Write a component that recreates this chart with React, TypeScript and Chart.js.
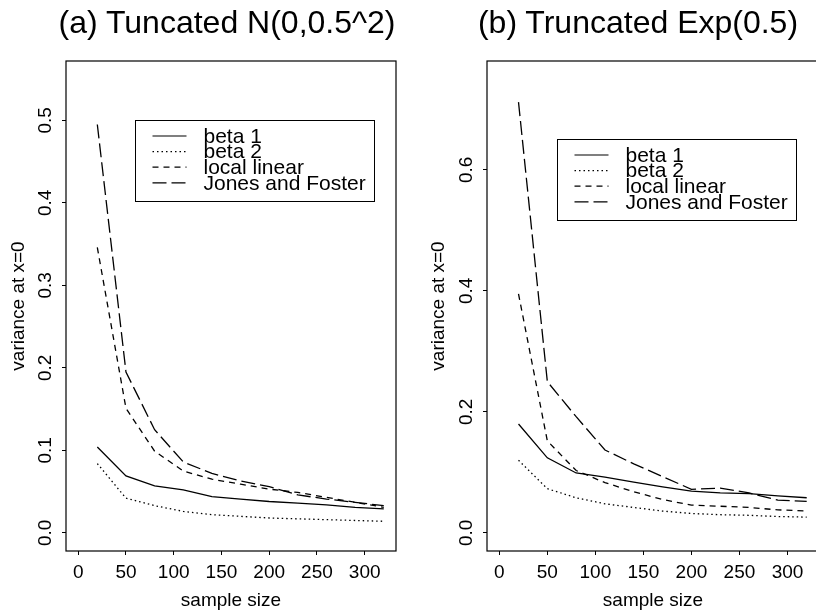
import React, { useEffect, useRef } from "react";
import { Chart, registerables } from "chart.js";

Chart.register(...registerables);

const sampleSizes = [20, 50, 80, 110, 140, 170, 200, 230, 260, 290, 320];
const seriesNames = ["beta 1", "beta 2", "local linear", "Jones and Foster"];

const normBeta1 = [0.104, 0.069, 0.057, 0.052, 0.044, 0.041, 0.038, 0.036, 0.034, 0.031, 0.029];
const normBeta2 = [0.084, 0.042, 0.033, 0.026, 0.022, 0.02, 0.018, 0.017, 0.016, 0.015, 0.014];
const normLocal = [0.346, 0.151, 0.099, 0.075, 0.065, 0.059, 0.053, 0.049, 0.043, 0.037, 0.031];
const normJones = [0.495, 0.195, 0.125, 0.086, 0.072, 0.063, 0.056, 0.046, 0.041, 0.037, 0.033];

const expBeta1 = [0.18, 0.124, 0.099, 0.092, 0.084, 0.076, 0.069, 0.066, 0.065, 0.061, 0.058];
const expBeta2 = [0.12, 0.073, 0.058, 0.048, 0.042, 0.036, 0.032, 0.03, 0.029, 0.027, 0.026];
const expLocal = [0.395, 0.152, 0.103, 0.083, 0.068, 0.055, 0.046, 0.044, 0.042, 0.038, 0.036];
const expJones = [0.712, 0.25, 0.192, 0.137, 0.114, 0.093, 0.072, 0.074, 0.066, 0.054, 0.052];

const xTickValues = [0, 50, 100, 150, 200, 250, 300];
const normYTicks = [0, 0.1, 0.2, 0.3, 0.4, 0.5];
const expYTicks = [0, 0.2, 0.4, 0.6];

const titleA = "(a) Tuncated N(0,0.5^2)";
const titleB = "(b) Truncated Exp(0.5)";
const xAxisTitle = "sample size";
const yAxisTitle = "variance at x=0";

const DASHES = [[], [1.5, 3], [6, 5], [14, 5]];
const FONT = "'Liberation Sans', Arial, Helvetica, sans-serif";

type PanelProps = {
  canvasLeft: number;
  canvasWidth: number;
  yAxisWidth: number;
  rightPad: number;
  series: number[][];
  yMin: number;
  yMax: number;
  yTicks: number[];
  legendDX: number;
  legendDY: number;
};

function Panel(p: PanelProps) {
  const ref = useRef<HTMLCanvasElement>(null);
  useEffect(() => {
    if (!ref.current) return;
    const boxPlugin = {
      id: "rbox",
      afterDraw(chart: any) {
        const { ctx, chartArea: a } = chart;
        ctx.save();
        ctx.strokeStyle = "#000";
        ctx.lineWidth = 1.2;
        ctx.setLineDash([]);
        ctx.strokeRect(a.left, a.top, a.right - a.left, a.bottom - a.top);
        const lx = Math.round(a.left + p.legendDX) + 0.5;
        const ly = Math.round(a.top + p.legendDY) + 0.5;
        const lw = 239;
        const lh = 81;
        ctx.fillStyle = "#fff";
        ctx.fillRect(lx, ly, lw, lh);
        ctx.lineWidth = 1;
        ctx.strokeRect(lx, ly, lw, lh);
        ctx.font = `21px ${FONT}`;
        ctx.textBaseline = "middle";
        ctx.textAlign = "left";
        ctx.fillStyle = "#000";
        chart.data.datasets.forEach((ds: any, i: number) => {
          const y = ly + 15.5 + i * 15.6;
          ctx.setLineDash(ds.borderDash || []);
          ctx.lineWidth = 1.2;
          ctx.beginPath();
          ctx.moveTo(lx + 17, y);
          ctx.lineTo(lx + 51, y);
          ctx.stroke();
          ctx.setLineDash([]);
          ctx.fillText(ds.label, lx + 68, y + 1);
        });
        ctx.restore();
      },
    };

    const chart = new Chart(ref.current, {
      type: "line",
      data: {
        datasets: p.series.map((vals, i) => ({
          label: seriesNames[i],
          data: sampleSizes.map((x, j) => ({ x, y: vals[j] })),
          borderColor: "#000",
          borderWidth: 1.3,
          borderDash: DASHES[i],
          pointRadius: 0,
          fill: false,
          tension: 0,
        })),
      },
      options: {
        animation: false,
        responsive: false,
        maintainAspectRatio: false,
        layout: { padding: { top: 61, right: p.rightPad, left: 0, bottom: 0 } },
        plugins: {
          legend: { display: false },
          tooltip: { enabled: false },
          title: { display: false },
        },
        scales: {
          x: {
            type: "linear",
            min: -12.8,
            max: 332.8,
            afterBuildTicks: (s: any) => {
              s.ticks = xTickValues.map((v) => ({ value: v }));
            },
            afterFit: (s: any) => {
              s.height = 63;
            },
            grid: { drawOnChartArea: false, drawTicks: true, tickLength: 4, color: "#000", lineWidth: 1 },
            border: { display: false },
            ticks: {
              color: "#000",
              font: { family: FONT, size: 19 },
              padding: 6,
              maxRotation: 0,
              autoSkip: false,
              callback: (v: any) => String(v),
            },
            title: {
              display: true,
              text: xAxisTitle,
              color: "#000",
              font: { family: FONT, size: 19 },
              padding: { top: 0, bottom: 2 },
            },
          },
          y: {
            type: "linear",
            min: p.yMin,
            max: p.yMax,
            afterBuildTicks: (s: any) => {
              s.ticks = p.yTicks.map((v) => ({ value: v }));
            },
            afterFit: (s: any) => {
              s.width = p.yAxisWidth;
            },
            grid: { drawOnChartArea: false, drawTicks: true, tickLength: 4, color: "#000", lineWidth: 1 },
            border: { display: false },
            ticks: {
              color: "#000",
              font: { family: FONT, size: 19 },
              minRotation: 90,
              maxRotation: 90,
              crossAlign: "center",
              padding: 3,
              autoSkip: false,
              callback: (v: any) => Number(v).toFixed(1),
            },
            title: {
              display: true,
              text: yAxisTitle,
              color: "#000",
              font: { family: FONT, size: 19 },
              padding: { top: 7, bottom: 0 },
            },
          },
        },
      } as any,
      plugins: [boxPlugin],
    });
    return () => chart.destroy();
  }, []);
  return (
    <canvas
      ref={ref}
      width={p.canvasWidth}
      height={614}
      style={{ position: "absolute", left: p.canvasLeft, top: 0, width: p.canvasWidth, height: 614 }}
    />
  );
}

export default function App() {
  const titleStyle: React.CSSProperties = {
    position: "absolute",
    top: 5,
    fontFamily: FONT,
    fontSize: 32,
    lineHeight: "34px",
    textAlign: "center",
    color: "#000",
    whiteSpace: "nowrap",
  };
  return (
    <div
      style={{
        position: "fixed",
        left: 0,
        top: 0,
        width: 816,
        height: 614,
        overflow: "hidden",
        background: "#fff",
      }}
    >
      <Panel
        canvasLeft={0}
        canvasWidth={440}
        yAxisWidth={66}
        rightPad={44}
        series={[normBeta1, normBeta2, normLocal, normJones]}
        yMin={-0.022}
        yMax={0.572}
        yTicks={normYTicks}
        legendDX={69}
        legendDY={59}
      />
      <Panel
        canvasLeft={420}
        canvasWidth={440}
        yAxisWidth={67}
        rightPad={41}
        series={[expBeta1, expBeta2, expLocal, expJones]}
        yMin={-0.03}
        yMax={0.78}
        yTicks={expYTicks}
        legendDX={70}
        legendDY={78}
      />
      <div style={{ ...titleStyle, left: 27, width: 400 }}>{titleA}</div>
      <div style={{ ...titleStyle, left: 438, width: 400 }}>{titleB}</div>
    </div>
  );
}
